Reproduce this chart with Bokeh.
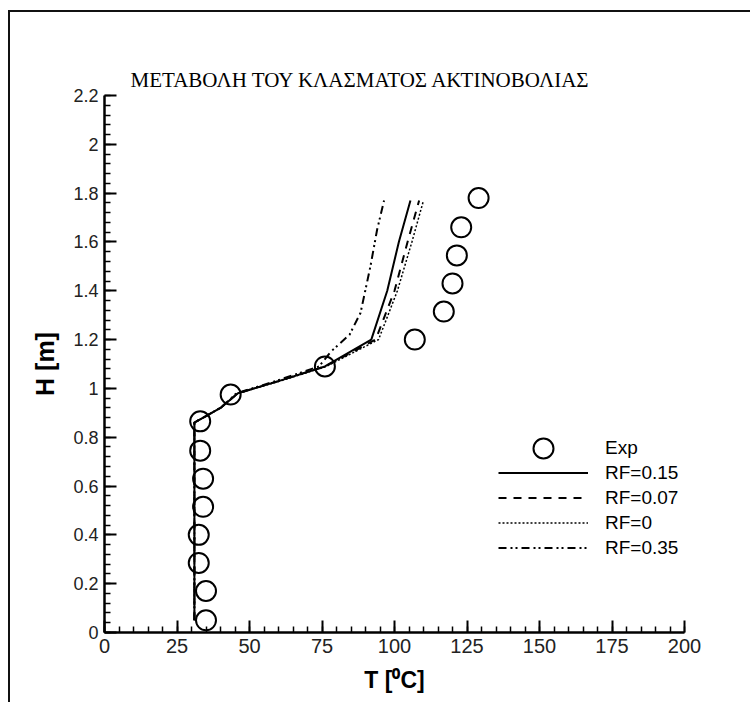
from bokeh.plotting import figure
from bokeh.models import Range1d, FixedTicker, Legend, LegendItem
from bokeh.embed import file_html
from bokeh.resources import INLINE

# Measured temperatures (circles)
exp_T = [35.0, 35.0, 32.5, 32.5, 34.0, 34.0, 33.0, 33.0, 43.5, 76.0, 107.0, 117.0, 120.0, 121.5, 123.0, 129.0]
exp_H = [0.05, 0.17, 0.285, 0.40, 0.515, 0.63, 0.745, 0.865, 0.975, 1.09, 1.20, 1.315, 1.43, 1.545, 1.66, 1.78]

# Computed profiles for the different radiation fractions
sim_H = [0.05, 0.86, 0.92, 0.98, 1.03, 1.09, 1.20, 1.40, 1.60, 1.77]
rf015_T = [31.0, 31.0, 40.0, 46.0, 60.0, 76.0, 92.0, 97.5, 101.5, 105.5]
rf007_T = [31.0, 31.0, 40.0, 46.0, 60.0, 76.0, 93.5, 100.0, 104.5, 108.5]
rf0_T = [31.0, 31.0, 40.0, 46.0, 60.5, 76.5, 94.5, 101.0, 106.0, 110.0]
rf035_H = [0.05, 0.86, 0.92, 0.98, 1.03, 1.09, 1.15, 1.22, 1.31, 1.50, 1.65, 1.77]
rf035_T = [31.0, 31.0, 40.0, 45.5, 59.0, 74.0, 78.0, 84.5, 88.3, 91.7, 94.0, 96.4]

# Axis ticks
x_ticks = [0, 25, 50, 75, 100, 125, 150, 175, 200]
x_labels = ["0", "25", "50", "75", "100", "125", "150", "175", "200"]
y_ticks = [0, 0.2, 0.4, 0.6, 0.8, 1, 1.2, 1.4, 1.6, 1.8, 2, 2.2]
y_labels = ["0", "0.2", "0.4", "0.6", "0.8", "1", "1.2", "1.4", "1.6", "1.8", "2", "2.2"]
x_minor = list(range(0, 201, 5))
y_minor = [round(i * 0.04, 2) for i in range(56)]

p = figure(width=742, height=692,
           x_range=Range1d(0, 200), y_range=Range1d(0, 2.2),
           output_backend="svg", toolbar_location=None,
           min_border_left=94, min_border_right=68,
           min_border_top=83, min_border_bottom=72,
           margin=(10, 0, 0, 8))
p.styles = {"border-top": "2px solid #111", "border-left": "2px solid #111"}
p.background_fill_color = "white"
p.border_fill_color = "white"
p.outline_line_color = None
p.grid.visible = False

p.title.text = "ΜΕΤΑΒΟΛΗ ΤΟΥ ΚΛΑΣΜΑΤΟΣ ΑΚΤΙΝΟΒΟΛΙΑΣ"
p.title.text_font = "Liberation Serif"
p.title.text_font_size = "21px"
p.title.text_font_style = "normal"
p.title.text_color = "black"
p.title.align = "left"
p.title.offset = 26
p.title.standoff = 8

p.xaxis.ticker = FixedTicker(ticks=x_ticks, minor_ticks=x_minor)
p.yaxis.ticker = FixedTicker(ticks=y_ticks, minor_ticks=y_minor)
p.xaxis.major_label_overrides = dict(zip(x_ticks, x_labels))
p.yaxis.major_label_overrides = dict(zip(y_ticks, y_labels))

for ax in (p.xaxis[0], p.yaxis[0]):
    ax.axis_line_width = 2.5
    ax.axis_line_color = "black"
    ax.major_tick_line_width = 2
    ax.minor_tick_line_width = 1.5
    ax.major_tick_line_color = "black"
    ax.minor_tick_line_color = "black"
    ax.major_tick_in = 12
    ax.major_tick_out = 0
    ax.minor_tick_in = 6
    ax.minor_tick_out = 0
    ax.major_label_text_color = "#222"
    ax.axis_label_text_font = "Liberation Sans"
    ax.axis_label_text_font_style = "bold"
    ax.axis_label_text_color = "black"

p.xaxis.major_label_text_font = "Liberation Sans Narrow, Liberation Sans"
p.xaxis.major_label_text_font_size = "20px"
p.xaxis.major_label_standoff = 6
p.xaxis.axis_label = "T [⁰C]"
p.xaxis.axis_label_text_font_size = "23px"
p.xaxis.axis_label_standoff = 11

p.yaxis.major_label_text_font = "Liberation Sans"
p.yaxis.major_label_text_font_size = "18px"
p.yaxis.major_label_standoff = 6
p.yaxis.axis_label = "H [m]"
p.yaxis.axis_label_text_font_size = "25px"
p.yaxis.axis_label_standoff = 11

r_exp = p.scatter(exp_T, exp_H, marker="circle", size=20, fill_color=None,
                  line_color="black", line_width=2)
r015 = p.line(rf015_T, sim_H, line_color="black", line_width=2)
r007 = p.line(rf007_T, sim_H, line_color="black", line_width=2, line_dash="8 7")
r0 = p.line(rf0_T, sim_H, line_color="black", line_width=1.5, line_dash="2 2")
r035 = p.line(rf035_T, rf035_H, line_color="black", line_width=2,
              line_dash="8 4 2 3 2 4")

legend_style = dict(glyph_width=90, label_standoff=17, padding=0, margin=0,
                    border_line_color=None, background_fill_alpha=0,
                    label_text_font="Liberation Sans", label_text_font_size="19px",
                    label_text_color="black")

# The marker entry gets a taller slot so its circle matches the plotted ones
exp_legend = Legend(items=[LegendItem(label="Exp", renderers=[r_exp])],
                    location=(394, 159), glyph_height=50, **legend_style)
line_legend = Legend(items=[LegendItem(label="RF=0.15", renderers=[r015]),
                            LegendItem(label="RF=0.07", renderers=[r007]),
                            LegendItem(label="RF=0", renderers=[r0]),
                            LegendItem(label="RF=0.35", renderers=[r035])],
                     location=(394, 72), glyph_height=25, label_height=25,
                     spacing=0, **legend_style)
p.add_layout(exp_legend)
p.add_layout(line_legend)

open("out.html", "w").write(file_html(p, INLINE))
